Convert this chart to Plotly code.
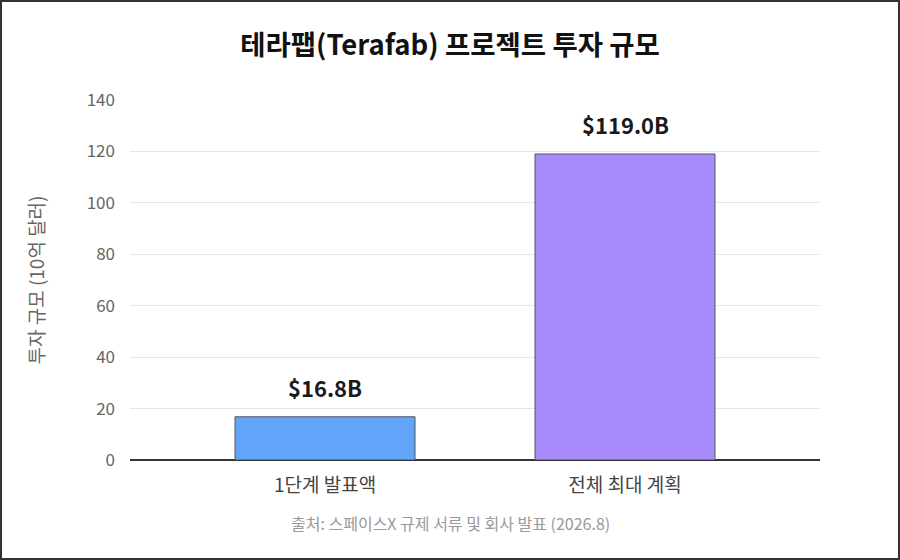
import plotly.graph_objects as go

# data
categories = ["1단계 발표액", "전체 최대 계획"]
values = [16.8, 119.0]
labels = ["$16.8B", "$119.0B"]
bar_colors = ["#60A5FA", "#A78BFA"]
y_ticks = [0, 20, 40, 60, 80, 100, 120, 140]

FONT = "Noto Sans CJK KR"
W, H = 900, 560
ML, MR, MT, MB = 130, 80, 100, 100
pw, ph = W - ML - MR, H - MT - MB

fig = go.Figure()
fig.add_trace(
    go.Bar(
        x=[0, 1],
        y=values,
        width=0.6,
        marker=dict(color=bar_colors, line=dict(color="#555555", width=1)),
        hoverinfo="skip",
    )
)

# value labels above the bars
for i, (v, lab) in enumerate(zip(values, labels)):
    fig.add_annotation(
        x=i, y=v, text=lab,
        showarrow=False,
        xanchor="center", yanchor="bottom",
        yshift=12,
        font=dict(family=FONT, size=22, color="#1a1a1a", weight="bold"),
    )

fig.update_layout(
    width=W,
    height=H,
    margin=dict(l=ML, r=MR, t=MT, b=MB),
    paper_bgcolor="white",
    plot_bgcolor="white",
    showlegend=False,
    font=dict(family=FONT, color="#333333"),
    title=dict(
        text="테라팹(Terafab) 프로젝트 투자 규모",
        x=0.5,
        xanchor="center",
        y=1 - 45 / H,
        yanchor="middle",
        font=dict(family=FONT, size=27.5, color="#111111", weight="bold"),
    ),
)

fig.update_xaxes(
    range=[-0.65, 1.65],
    tickvals=[0, 1],
    ticktext=categories,
    tickfont=dict(family=FONT, size=19, color="#444444"),
    showgrid=False,
    zeroline=False,
    showline=False,
    ticks="",
    ticklabelstandoff=12,
)
fig.update_yaxes(
    range=[0, 140],
    tickvals=y_ticks,
    tickfont=dict(family=FONT, size=17, color="#666666"),
    showgrid=True,
    gridcolor="#e6e6e6",
    gridwidth=1,
    zeroline=True,
    zerolinecolor="#333333",
    zerolinewidth=2,
    showline=False,
    ticks="",
    ticklabelstandoff=14,
    title=dict(text="투자 규모 (10억 달러)", font=dict(family=FONT, size=19, color="#666666"), standoff=37),
)

# source note
fig.add_annotation(
    text="출처: 스페이스X 규제 서류 및 회사 발표 (2026.8)",
    xref="paper", yref="paper",
    x=(450 - ML) / pw, y=(MT + ph - 523) / ph,
    xanchor="center", yanchor="middle",
    showarrow=False,
    font=dict(family=FONT, size=16, color="#999999"),
)

# outer frame
fig.add_shape(
    type="rect",
    xref="paper", yref="paper",
    x0=(1 - ML) / pw, x1=(W - 1 - ML) / pw,
    y0=(MT + ph - (H - 1)) / ph, y1=(MT + ph - 1) / ph,
    line=dict(color="#333333", width=2),
    layer="above",
)

fig.write_html(
    "out.html",
    config={"displayModeBar": False},
    post_script="document.body.style.margin='0';",
)
